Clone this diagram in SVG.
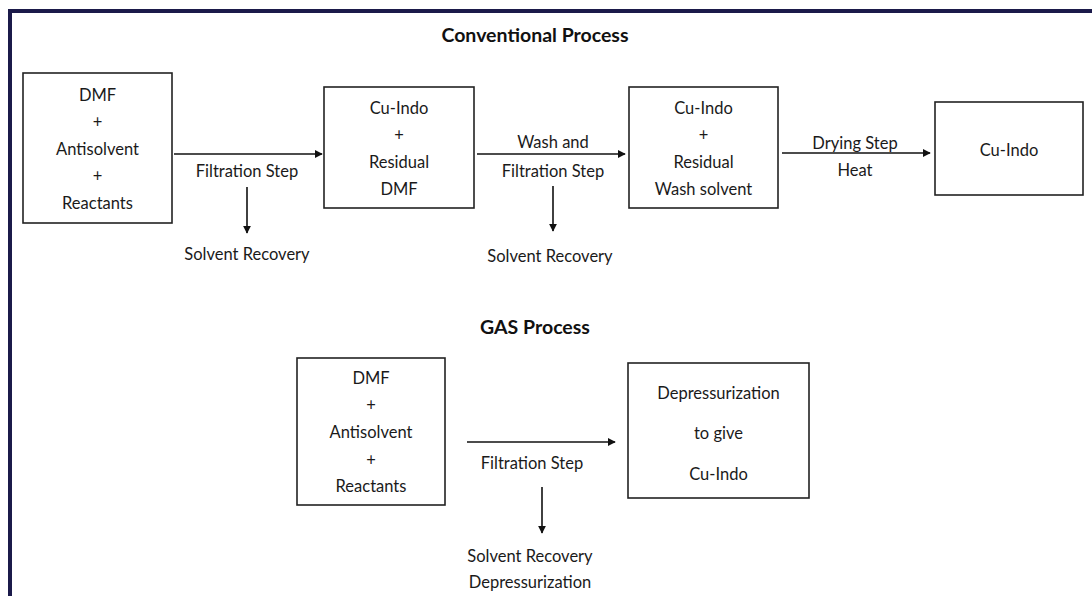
<svg xmlns="http://www.w3.org/2000/svg" width="1092" height="596" viewBox="0 0 1092 596">
<style>
.t{font-family:Lato,"Liberation Sans",sans-serif;font-size:16.5px;fill:#1a1a1a;text-anchor:middle}
.h{font-family:Lato,"Liberation Sans",sans-serif;font-size:19.5px;font-weight:bold;fill:#111;text-anchor:middle}
.b{fill:#fff;stroke:#222;stroke-width:1.6}
.c{stroke:#111;stroke-width:1.6;fill:none}
</style>
<defs>
<marker id="ah" viewBox="0 0 10 10" refX="9" refY="5" markerWidth="8" markerHeight="8" markerUnits="userSpaceOnUse" orient="auto">
<path d="M0,0 L10,5 L0,10 Z" fill="#111"/>
</marker>
</defs>
<rect x="0" y="0" width="1092" height="596" fill="#fff"/>
<g id="frame">
<rect x="8" y="9" width="1084" height="4" fill="#1b1a4a"/>
<rect x="8" y="9" width="4" height="587" fill="#1b1a4a"/>
</g>
<text class="h" x="535" y="42">Conventional Process</text>
<text class="h" x="535" y="334">GAS Process</text>
<g id="c1">
<rect class="b" x="23" y="73" width="149" height="150"/>
<text class="t" x="97.5" y="101">DMF</text>
<text class="t" x="97.5" y="128">+</text>
<text class="t" x="97.5" y="155">Antisolvent</text>
<text class="t" x="97.5" y="182">+</text>
<text class="t" x="97.5" y="209">Reactants</text>
</g>
<g id="c2">
<rect class="b" x="324" y="87" width="150" height="121"/>
<text class="t" x="399" y="114">Cu-Indo</text>
<text class="t" x="399" y="141">+</text>
<text class="t" x="399" y="168">Residual</text>
<text class="t" x="399" y="195">DMF</text>
</g>
<g id="c3">
<rect class="b" x="629" y="87" width="149" height="121"/>
<text class="t" x="703.5" y="114">Cu-Indo</text>
<text class="t" x="703.5" y="141">+</text>
<text class="t" x="703.5" y="168">Residual</text>
<text class="t" x="703.5" y="195">Wash solvent</text>
</g>
<g id="c4">
<rect class="b" x="935" y="102" width="148" height="93"/>
<text class="t" x="1009" y="156">Cu-Indo</text>
</g>
<g id="g1">
<rect class="b" x="297" y="358" width="148" height="147"/>
<text class="t" x="371" y="384">DMF</text>
<text class="t" x="371" y="411">+</text>
<text class="t" x="371" y="438">Antisolvent</text>
<text class="t" x="371" y="466">+</text>
<text class="t" x="371" y="492">Reactants</text>
</g>
<g id="g2">
<rect class="b" x="628" y="363" width="181" height="135"/>
<text class="t" x="718.5" y="399">Depressurization</text>
<text class="t" x="718.5" y="439">to give</text>
<text class="t" x="718.5" y="480">Cu-Indo</text>
</g>
<g id="connectors">
<line class="c" x1="174" y1="154" x2="322" y2="154" marker-end="url(#ah)"/>
<line class="c" x1="247" y1="187" x2="247" y2="233" marker-end="url(#ah)"/>
<line class="c" x1="477" y1="154" x2="625" y2="154" marker-end="url(#ah)"/>
<line class="c" x1="553" y1="186" x2="553" y2="231" marker-end="url(#ah)"/>
<line class="c" x1="782" y1="153" x2="930" y2="153" marker-end="url(#ah)"/>
<line class="c" x1="467" y1="442" x2="615" y2="442" marker-end="url(#ah)"/>
<line class="c" x1="542" y1="487" x2="542" y2="533" marker-end="url(#ah)"/>
</g>
<g id="labels">
<text class="t" x="247" y="177">Filtration Step</text>
<text class="t" x="247" y="260">Solvent Recovery</text>
<text class="t" x="553" y="148">Wash and</text>
<text class="t" x="553" y="177">Filtration Step</text>
<text class="t" x="550" y="262">Solvent Recovery</text>
<text class="t" x="855" y="149">Drying Step</text>
<text class="t" x="855" y="176">Heat</text>
<text class="t" x="532" y="469">Filtration Step</text>
<text class="t" x="530" y="562">Solvent Recovery</text>
<text class="t" x="530" y="588">Depressurization</text>
</g>
</svg>
